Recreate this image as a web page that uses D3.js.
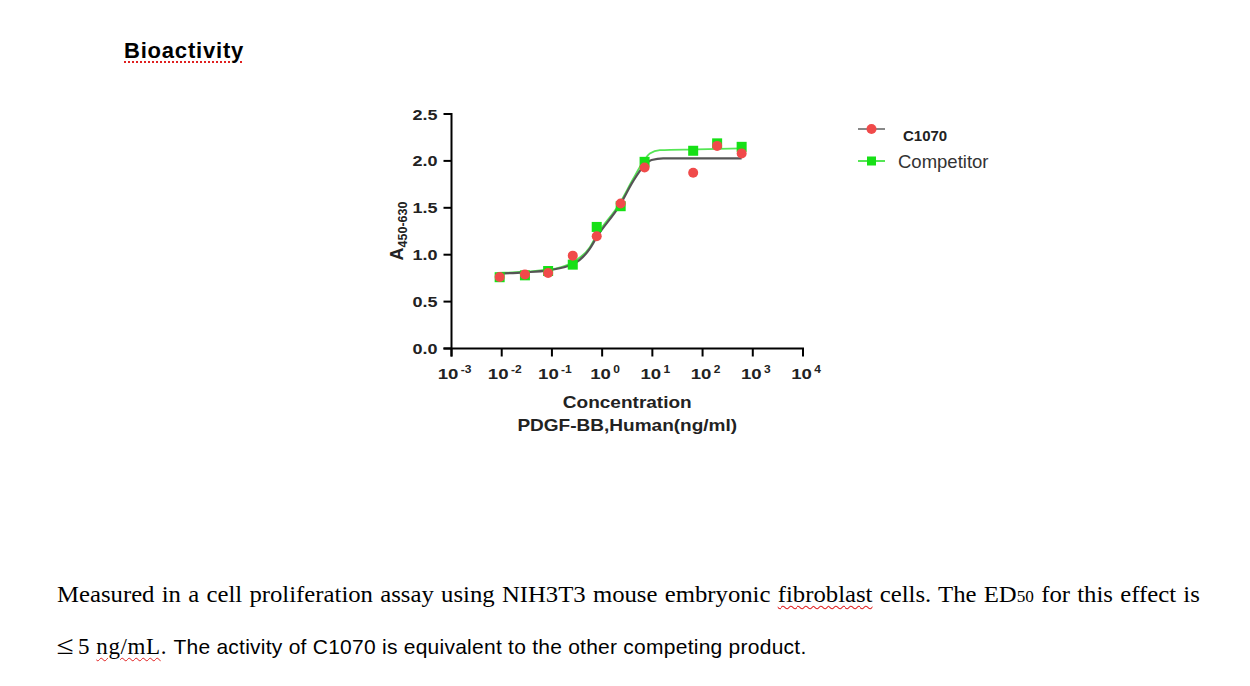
<!DOCTYPE html>
<html><head><meta charset="utf-8">
<script src="https://cdn.jsdelivr.net/npm/d3@7/dist/d3.min.js"></script>
<style>
html,body{margin:0;padding:0;background:#fff;}
#wrap{position:relative;width:1250px;height:686px;overflow:hidden;background:#fff;}
.htxt{position:absolute;white-space:nowrap;color:#000;transform-origin:0 0;}
.wavy{text-decoration:underline wavy #e02020;text-decoration-thickness:1px;text-underline-offset:3px;}
</style></head>
<body><div id="wrap"></div>
<script>
// ---- data ----
const concentrations = [0.0091, 0.029, 0.084, 0.26, 0.78, 2.34, 7.0, 65, 195, 600];
const c1070Values = [0.762, 0.79, 0.805, 0.99, 1.197, 1.546, 1.93, 1.873, 2.16, 2.08];
const competitorValues = [0.76, 0.78, 0.826, 0.894, 1.296, 1.517, 1.99, 2.108, 2.187, 2.15];
// fitted curves
const c1070CurveConc = [0.0082, 0.0288, 0.0832, 0.26, 0.569, 0.783, 2.25, 4.15, 6.56, 9.64, 16.4, 600];
const c1070CurveVals = [0.798, 0.812, 0.833, 0.897, 1.065, 1.189, 1.528, 1.784, 1.937, 2.009, 2.027, 2.027];
const compCurveConc = [0.0082, 0.0832, 0.26, 0.569, 0.783, 2.25, 4.15, 6.56, 8.9, 14.1, 76, 600];
const compCurveVals = [0.805, 0.84, 0.92, 1.08, 1.21, 1.55, 1.81, 1.99, 2.08, 2.115, 2.123, 2.133];
const yTicks = [0, 0.5, 1.0, 1.5, 2.0, 2.5];
const xTickExps = [-3, -2, -1, 0, 1, 2, 3, 4];
const seriesNames = ["C1070", "Competitor"];

const W = 1250, H = 686;
const wrap = d3.select("#wrap");
const svg = wrap.append("svg").attr("width", W).attr("height", H)
  .style("position","absolute").style("left",0).style("top",0);

const x = d3.scaleLog().domain([1e-3, 1e4]).range([451.5, 803]);
const y = d3.scaleLinear().domain([0, 2.5]).range([348.5, 114]);

const red = "#f04a4a", green = "#16e016", curveDark = "#555", curveGreen = "#55e655";
const F = "Liberation Sans, Arial, sans-serif";

// axes
const ax = svg.append("g").attr("stroke", "#000").attr("stroke-width", 2).attr("fill","none");
ax.append("line").attr("x1", x(1e-3)).attr("x2", x(1e-3)).attr("y1", y(2.5)-1).attr("y2", y(0)+8);
ax.append("line").attr("x1", x(1e-3)-8).attr("x2", x(1e4)+1).attr("y1", y(0)).attr("y2", y(0));
yTicks.forEach(t => {
  ax.append("line").attr("x1", x(1e-3)-8).attr("x2", x(1e-3)).attr("y1", y(t)).attr("y2", y(t));
});
xTickExps.forEach(e => {
  ax.append("line").attr("x1", x(Math.pow(10,e))).attr("x2", x(Math.pow(10,e))).attr("y1", y(0)).attr("y2", y(0)+8);
});

// y tick labels
yTicks.forEach(t => {
  svg.append("text").attr("transform", `translate(${x(1e-3)-14},${y(t)+5.5}) scale(1.2,1)`)
    .attr("text-anchor","end").attr("font-family",F).attr("font-weight","bold").attr("font-size",15)
    .attr("fill","#222").text(d3.format(".1f")(t));
});
// x tick labels
xTickExps.forEach(e => {
  const tx = svg.append("text").attr("transform", `translate(${x(Math.pow(10,e))+3},${y(0)+30}) scale(1.2,1)`)
    .attr("text-anchor","middle").attr("font-family",F).attr("font-weight","bold").attr("font-size",15.5).attr("fill","#222");
  tx.append("tspan").text("10");
  tx.append("tspan").attr("dy",-6).attr("dx",2).attr("font-size",10).text(String(e));
});

// axis titles
const xc = (x(1e-3)+x(1e4))/2;
svg.append("text").attr("transform", `translate(${xc},${408}) scale(1.1,1)`).attr("text-anchor","middle")
  .attr("font-family",F).attr("font-weight","bold").attr("font-size",17.3).attr("fill","#222").text("Concentration");
svg.append("text").attr("transform", `translate(${xc},${431}) scale(1.1,1)`).attr("text-anchor","middle")
  .attr("font-family",F).attr("font-weight","bold").attr("font-size",17.3).attr("fill","#222").text("PDGF-BB,Human(ng/ml)");
const yt = svg.append("text").attr("transform", `translate(403,231) rotate(-90)`).attr("text-anchor","middle")
  .attr("font-family",F).attr("font-weight","bold").attr("fill","#222");
yt.append("tspan").attr("font-size",18).text("A");
yt.append("tspan").attr("font-size",12.5).attr("dy",4).text("450-630");

// curves
const line = d3.line().x(d => x(d[0])).y(d => y(d[1])).curve(d3.curveMonotoneX);
svg.append("path").datum(d3.zip(compCurveConc, compCurveVals)).attr("d", line)
  .attr("fill","none").attr("stroke",curveGreen).attr("stroke-width",1.8);
svg.append("path").datum(d3.zip(c1070CurveConc, c1070CurveVals)).attr("d", line)
  .attr("fill","none").attr("stroke",curveDark).attr("stroke-width",2.2);

// points
const sq = 10;
svg.append("g").selectAll("rect").data(d3.zip(concentrations, competitorValues)).join("rect")
  .attr("x", d => x(d[0]) - sq/2).attr("y", d => y(d[1]) - sq/2).attr("width", sq).attr("height", sq).attr("fill", green);
svg.append("g").selectAll("circle").data(d3.zip(concentrations, c1070Values)).join("circle")
  .attr("cx", d => x(d[0])).attr("cy", d => y(d[1])).attr("r", 5).attr("fill", red);

// legend
const lg = svg.append("g");
lg.append("line").attr("x1",858).attr("x2",885).attr("y1",129).attr("y2",129).attr("stroke","#888").attr("stroke-width",2);
lg.append("circle").attr("cx",871.5).attr("cy",129).attr("r",5).attr("fill",red);
lg.append("text").attr("x",903).attr("y",141).attr("font-family",F).attr("font-weight","bold").attr("font-size",15).attr("fill","#222").text(seriesNames[0]);
lg.append("line").attr("x1",858).attr("x2",885).attr("y1",161).attr("y2",161).attr("stroke",curveGreen).attr("stroke-width",2);
lg.append("rect").attr("x",867).attr("y",156.5).attr("width",9).attr("height",9).attr("fill",green);
lg.append("text").attr("x",898).attr("y",168).attr("font-family",F).attr("font-size",18.5).attr("fill","#333").text(seriesNames[1]);

// html text
wrap.append("div").attr("class","htxt").style("left","124px").style("top","38px")
  .style("font-family",F).style("font-weight","bold").style("font-size","22px").style("letter-spacing","0.8px")
  .html('<span class="wavy" style="text-decoration-style:dotted;text-decoration-thickness:2px">Bioactivity</span>');
wrap.append("div").attr("class","htxt").style("left","57px").style("top","582px")
  .style("font-family","Liberation Serif, Times New Roman, serif").style("font-size","23px").style("word-spacing","1px")
  .style("transform","scale(1.075,1)")
  .html('Measured in a cell proliferation assay using NIH3T3 mouse embryonic <span class="wavy">fibroblast</span> cells. The ED<span style="font-size:16px">50</span> for this effect is');
wrap.append("div").attr("class","htxt").style("left","58px").style("top","631px")
  .html('<span style="font-family:Liberation Serif, serif;font-size:23px;letter-spacing:0.6px"><span style="font-size:26px;display:inline-block;transform:scale(1.2,1);margin-right:5px">≤</span>5 <span class="wavy">ng/mL</span>. </span><span style="font-family:Liberation Sans, Arial, sans-serif;font-size:21px;letter-spacing:0.25px">The activity of C1070 is equivalent to the other competing product.</span>');
</script>
</body></html>
